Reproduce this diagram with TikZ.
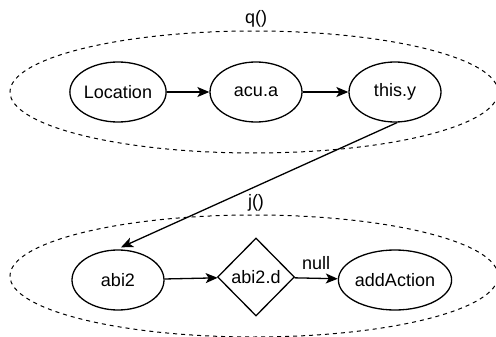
\documentclass[tikz,border=0pt]{standalone}
\usepackage{fontspec}
\setmainfont{Liberation Sans}
\usetikzlibrary{shapes.geometric,arrows.meta}
\begin{document}
\begin{tikzpicture}[x=1pt,y=-1pt,
  every node/.style={font=\fontsize{18}{21}\selectfont},
  elnode/.style={draw,ellipse,line width=1.3pt,minimum width=92pt,minimum height=60pt,inner sep=0pt},
  dnode/.style={draw,diamond,line width=1.3pt,minimum width=77pt,minimum height=78pt,inner sep=0pt},
  grp/.style={draw,ellipse,dashed,dash pattern=on 4pt off 4pt,line width=1pt,minimum width=488pt,minimum height=122pt,inner sep=0pt},
  arr/.style={-{Stealth[length=12pt,width=10pt,inset=3pt]},line width=1.3pt},
  lbl/.style={inner sep=0pt}
]
\useasboundingbox (0,0) rectangle (496,337);
\node[grp] (gq) at (254,92) {};
\node[grp] (gj) at (254,276) {};
\node[lbl] (lq) at (256,19) {q()};
\node[lbl] (lj) at (256,203) {j()};
\node[elnode] (loc) at (118,92) {Location};
\node[elnode] (acu) at (256,92) {acu.a};
\node[elnode] (thisy) at (395,92) {this.y};
\node[elnode] (abi) at (118,280) {abi2};
\node[dnode] (abid) at (256,277) {abi2.d};
\node[elnode] (add) at (395,280) {addAction};
\draw[arr] (loc) -- (acu);
\draw[arr] (acu) -- (thisy);
\draw[arr] (abi) -- (abid);
\draw[arr] (abid) -- (add) node[lbl,midway,above=8pt] (nl) {null};
\draw[arr] ([xshift=2pt]thisy.south) -- ([xshift=3pt,yshift=2pt]abi.north);
\end{tikzpicture}
\end{document}
